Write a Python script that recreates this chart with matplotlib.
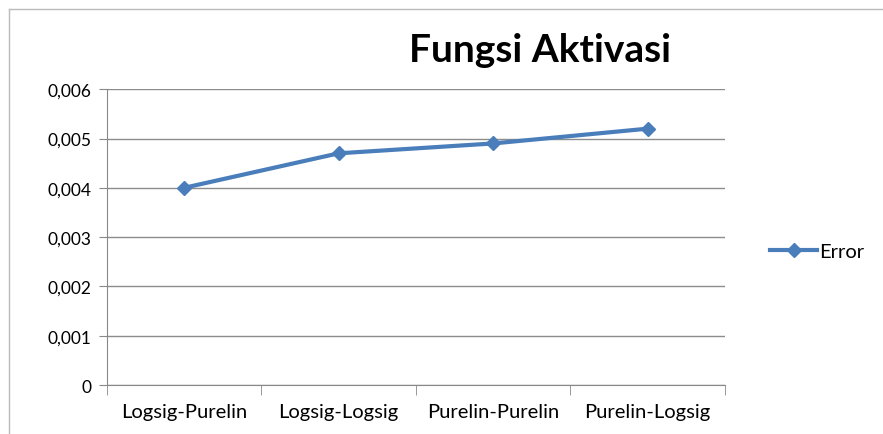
import matplotlib
matplotlib.use("Agg")
import matplotlib.pyplot as plt
import numpy as np

categories = ["Logsig-Purelin", "Logsig-Logsig", "Purelin-Purelin", "Purelin-Logsig"]
error_values = [0.0040, 0.0047, 0.0049, 0.0052]
y_ticks = [0, 0.001, 0.002, 0.003, 0.004, 0.005, 0.006]
y_tick_labels = ["0", "0,001", "0,002", "0,003", "0,004", "0,005", "0,006"]

plt.rcParams['font.family'] = ['Lato', 'DejaVu Sans']

fig = plt.figure(figsize=(8.83, 4.35), dpi=100)
ax = fig.add_axes([0.121, 0.1126, 0.700, 0.680])

x = np.arange(len(categories))
line, = ax.plot(x, error_values, color="#4A7EBB", lw=3, marker="D", ms=7.5,
                markerfacecolor="#4A7EBB", markeredgecolor="#4A7EBB", label="Error")

ax.set_xlim(-0.5, len(categories) - 0.5)
ax.set_ylim(0, 0.006)
ax.set_yticks(y_ticks)
ax.set_yticklabels(y_tick_labels, fontsize=12.5)
ax.set_xticks(x)
ax.set_xticklabels(categories, fontsize=14.5)
ax.tick_params(axis="x", length=0, pad=13)
ax.set_xticks(np.arange(-0.5, len(categories), 1), minor=True)
ax.tick_params(axis="x", which="minor", length=7, color="#888888", direction="out")
ax.tick_params(axis="y", length=6, color="#888888", direction="out", pad=5)

ax.grid(axis="y", color="#8c8c8c", lw=1)
ax.set_axisbelow(True)
for s in ["top", "right"]:
    ax.spines[s].set_visible(False)
for s in ["left", "bottom"]:
    ax.spines[s].set_color("#888888")

fig.text(0.612, 0.885, "Fungsi Aktivasi", fontsize=28, fontweight="bold",
         ha="center", va="center")

fig.legend(handles=[line], loc="center left", bbox_to_anchor=(0.852, 0.42),
           frameon=False, fontsize=14.5, handlelength=2.3, handletextpad=0.1)

# chart border
fig.add_artist(plt.Line2D([0.01, 1.0], [0.978, 0.978], color="#bbbbbb", lw=1))
fig.add_artist(plt.Line2D([0.01, 0.01], [0.0, 0.978], color="#bbbbbb", lw=1))

fig.savefig("out.png", dpi=100)
